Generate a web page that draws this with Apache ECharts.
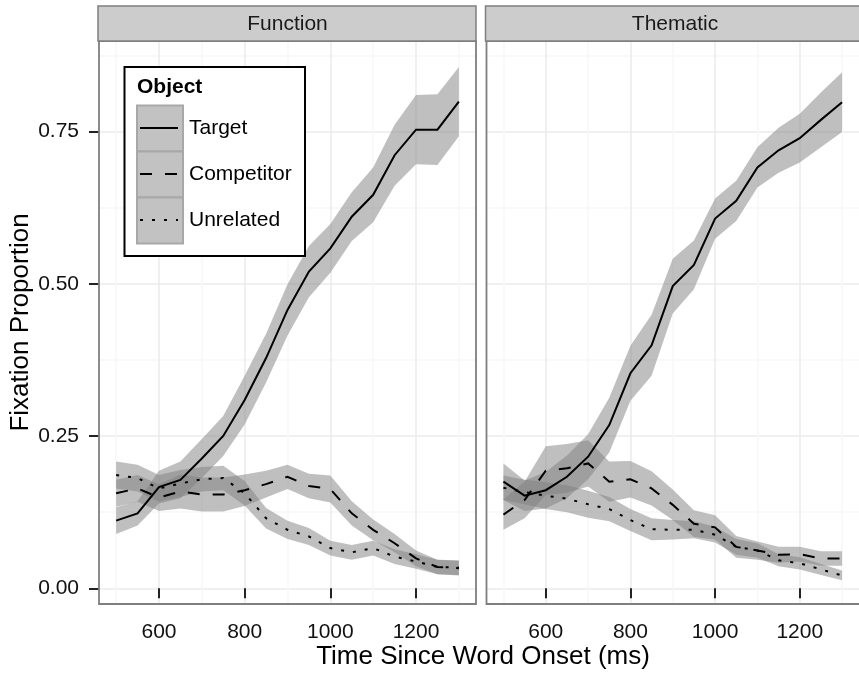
<!DOCTYPE html>
<html>
<head>
<meta charset="utf-8">
<script src="https://cdn.jsdelivr.net/npm/echarts@6/dist/echarts.min.js"></script>
<style>
html,body{margin:0;padding:0;background:#fff;}
#chart{width:859px;height:673px;}
</style>
</head>
<body>
<div id="chart"></div>
<script>
// ---- data ----
const times = [500, 550, 600, 650, 700, 750, 800, 850, 900, 950, 1000, 1050, 1100, 1150, 1200, 1250, 1300];
const panels = ['Function', 'Thematic'];
const objects = ['Target', 'Competitor', 'Unrelated'];
const xTicks = [600, 800, 1000, 1200];
const xMinorTicks = [500, 700, 900, 1100, 1300];
const yTicks = [0, 0.25, 0.5, 0.75];
const yMinorTicks = [0.125, 0.375, 0.625, 0.875];

// Function panel
const fnTargetMean = [0.111, 0.123, 0.166, 0.178, 0.213, 0.250, 0.309, 0.378, 0.457, 0.520, 0.558, 0.610, 0.646, 0.711, 0.753, 0.753, 0.799];
const fnTargetLo   = [0.089, 0.103, 0.139, 0.148, 0.181, 0.217, 0.269, 0.338, 0.415, 0.478, 0.518, 0.570, 0.601, 0.661, 0.696, 0.695, 0.742];
const fnTargetHi   = [0.133, 0.143, 0.193, 0.208, 0.245, 0.283, 0.349, 0.418, 0.499, 0.562, 0.598, 0.650, 0.691, 0.761, 0.810, 0.811, 0.856];

const fnCompMean = [0.156, 0.164, 0.149, 0.159, 0.154, 0.154, 0.161, 0.171, 0.183, 0.168, 0.163, 0.123, 0.096, 0.074, 0.049, 0.035, 0.033];
const fnCompLo   = [0.134, 0.142, 0.127, 0.131, 0.126, 0.126, 0.135, 0.149, 0.163, 0.148, 0.141, 0.103, 0.079, 0.059, 0.036, 0.023, 0.021];
const fnCompHi   = [0.178, 0.186, 0.171, 0.187, 0.182, 0.182, 0.187, 0.193, 0.203, 0.188, 0.185, 0.143, 0.113, 0.089, 0.062, 0.047, 0.045];

const fnUnrelMean = [0.186, 0.181, 0.164, 0.172, 0.179, 0.181, 0.156, 0.115, 0.096, 0.085, 0.066, 0.059, 0.066, 0.052, 0.044, 0.035, 0.034];
const fnUnrelLo   = [0.164, 0.159, 0.142, 0.150, 0.159, 0.161, 0.136, 0.098, 0.081, 0.071, 0.054, 0.047, 0.054, 0.040, 0.032, 0.023, 0.022];
const fnUnrelHi   = [0.208, 0.203, 0.186, 0.194, 0.199, 0.201, 0.176, 0.132, 0.111, 0.099, 0.078, 0.071, 0.078, 0.064, 0.056, 0.047, 0.046];

// Thematic panel
const thTargetMean = [0.175, 0.152, 0.161, 0.183, 0.216, 0.268, 0.353, 0.399, 0.496, 0.531, 0.607, 0.636, 0.691, 0.719, 0.739, 0.769, 0.798];
const thTargetLo   = [0.145, 0.127, 0.131, 0.148, 0.179, 0.223, 0.308, 0.349, 0.451, 0.491, 0.574, 0.603, 0.658, 0.682, 0.699, 0.724, 0.749];
const thTargetHi   = [0.205, 0.177, 0.191, 0.218, 0.253, 0.313, 0.398, 0.449, 0.541, 0.571, 0.640, 0.669, 0.724, 0.756, 0.779, 0.814, 0.847];

const thCompMean = [0.121, 0.145, 0.193, 0.197, 0.205, 0.175, 0.179, 0.164, 0.137, 0.106, 0.100, 0.068, 0.062, 0.055, 0.056, 0.049, 0.049];
const thCompLo   = [0.096, 0.115, 0.153, 0.157, 0.167, 0.142, 0.149, 0.136, 0.112, 0.084, 0.080, 0.050, 0.047, 0.042, 0.044, 0.037, 0.037];
const thCompHi   = [0.146, 0.175, 0.233, 0.237, 0.243, 0.208, 0.209, 0.192, 0.162, 0.128, 0.120, 0.086, 0.077, 0.068, 0.068, 0.061, 0.061];

const thUnrelMean = [0.165, 0.158, 0.152, 0.147, 0.138, 0.130, 0.112, 0.097, 0.096, 0.096, 0.088, 0.068, 0.062, 0.046, 0.041, 0.031, 0.021];
const thUnrelLo   = [0.145, 0.138, 0.130, 0.125, 0.116, 0.110, 0.094, 0.079, 0.080, 0.082, 0.075, 0.055, 0.050, 0.036, 0.031, 0.022, 0.013];
const thUnrelHi   = [0.185, 0.178, 0.174, 0.169, 0.160, 0.150, 0.130, 0.115, 0.112, 0.110, 0.101, 0.081, 0.074, 0.056, 0.051, 0.040, 0.029];

const panelData = [
  [[fnTargetMean, fnTargetLo, fnTargetHi], [fnCompMean, fnCompLo, fnCompHi], [fnUnrelMean, fnUnrelLo, fnUnrelHi]],
  [[thTargetMean, thTargetLo, thTargetHi], [thCompMean, thCompLo, thCompHi], [thUnrelMean, thUnrelLo, thUnrelHi]]
];

// ---- styles / layout ----
const FONT = '"Liberation Sans", Arial, Helvetica, sans-serif';
const lineTypes = ['solid', [12, 13], [3, 9]];
const ribbonFill = 'rgba(127,127,127,0.5)';
const gridPos = [{left: 99, top: 41, width: 377, height: 563}, {left: 486.5, top: 41, width: 377, height: 563}];
const X_MIN = 460, X_MAX = 1340, Y_MIN = -0.0258, Y_MAX = 0.8985;

const chart = echarts.init(document.getElementById('chart'), null, {renderer: 'canvas'});

const grids = gridPos.map(g => ({left: g.left, top: g.top, width: g.width, height: g.height, show: false, containLabel: false}));
const xAxes = [], yAxes = [];
panels.forEach((p, i) => {
  xAxes.push({
    type: 'value', gridIndex: i, min: X_MIN, max: X_MAX, position: 'bottom',
    axisLine: {show: false},
    axisTick: {show: true, customValues: xTicks, length: 10, lineStyle: {color: '#222', width: 2}},
    axisLabel: {show: true, customValues: xTicks, margin: 18, fontSize: 21, fontFamily: FONT, color: '#111',
      formatter: v => String(v)},
    splitLine: {show: true, lineStyle: {color: '#EBEBEB', width: 1.5}}
  });
  xAxes.push({
    type: 'value', gridIndex: i, min: X_MIN, max: X_MAX, position: 'bottom',
    axisLine: {show: false},
    axisTick: {show: false, customValues: xMinorTicks},
    axisLabel: {show: false},
    splitLine: {show: true, lineStyle: {color: '#F7F7F7', width: 1.5}}
  });
  yAxes.push({
    type: 'value', gridIndex: i, min: Y_MIN, max: Y_MAX, position: 'left',
    axisLine: {show: false},
    axisTick: {show: i === 0, customValues: yTicks, length: 10, lineStyle: {color: '#222', width: 2}},
    axisLabel: {show: i === 0, customValues: yTicks, margin: 20, fontSize: 21, fontFamily: FONT, color: '#111',
      formatter: v => v.toFixed(2)},
    splitLine: {show: true, lineStyle: {color: '#EBEBEB', width: 1.5}}
  });
  yAxes.push({
    type: 'value', gridIndex: i, min: Y_MIN, max: Y_MAX, position: 'left',
    axisLine: {show: false},
    axisTick: {show: false, customValues: yMinorTicks},
    axisLabel: {show: false},
    splitLine: {show: true, lineStyle: {color: '#F7F7F7', width: 1.5}}
  });
});

const series = [];
panels.forEach((p, i) => {
  panelData[i].forEach((d, k) => {
    const lo = d[1], hi = d[2];
    series.push({
      type: 'custom', name: p + ' ' + objects[k] + ' band',
      xAxisIndex: i * 2, yAxisIndex: i * 2, z: 2, silent: true,
      data: [[times[0], lo[0]]],
      renderItem: function (params, api) {
        const pts = [];
        for (let j = 0; j < times.length; j++) pts.push(api.coord([times[j], hi[j]]));
        for (let j = times.length - 1; j >= 0; j--) pts.push(api.coord([times[j], lo[j]]));
        return {type: 'polygon', shape: {points: pts}, style: {fill: ribbonFill}};
      }
    });
  });
});
panels.forEach((p, i) => {
  panelData[i].forEach((d, k) => {
    series.push({
      type: 'line', name: p + ' ' + objects[k],
      xAxisIndex: i * 2, yAxisIndex: i * 2, z: 3, silent: true,
      showSymbol: false, symbol: 'none', smooth: false,
      data: times.map((t, j) => [t, d[0][j]]),
      lineStyle: {color: '#000', width: 2, type: lineTypes[k], cap: 'butt', join: 'miter'}
    });
  });
});

// graphic: panel borders, strips, legend, axis titles
const graphic = [];
gridPos.forEach((g, i) => {
  graphic.push({type: 'rect', z: 50, silent: true,
    shape: {x: g.left, y: g.top, width: g.width, height: g.height},
    style: {fill: null, stroke: '#7F7F7F', lineWidth: 1.8}});
  graphic.push({type: 'rect', z: 50, silent: true,
    shape: {x: g.left - 1, y: 6, width: g.width + 1, height: g.top - 6},
    style: {fill: '#CCCCCC', stroke: '#7F7F7F', lineWidth: 1.5}});
  graphic.push({type: 'text', z: 51, silent: true,
    style: {text: panels[i], x: g.left + g.width / 2, y: 24, align: 'center', verticalAlign: 'middle',
      fontSize: 21, fontFamily: FONT, fill: '#1a1a1a'}});
});
// legend
graphic.push({type: 'rect', z: 60, silent: true,
  shape: {x: 124.5, y: 67, width: 180.5, height: 189},
  style: {fill: '#fff', stroke: '#000', lineWidth: 2}});
graphic.push({type: 'text', z: 61, silent: true,
  style: {text: 'Object', x: 137, y: 87.5, align: 'left', verticalAlign: 'middle',
    fontSize: 21, fontWeight: 'bold', fontFamily: FONT, fill: '#000'}});
objects.forEach((o, k) => {
  const top = 105.5 + k * 46;
  graphic.push({type: 'rect', z: 61, silent: true,
    shape: {x: 137, y: top, width: 46, height: 46},
    style: {fill: '#C2C2C2', stroke: '#A8A8A8', lineWidth: 2}});
  graphic.push({type: 'line', z: 62, silent: true,
    shape: {x1: 140, y1: top + 22.5, x2: 178, y2: top + 22.5},
    style: {stroke: '#000', lineWidth: 2, lineDash: lineTypes[k] === 'solid' ? null : lineTypes[k], lineCap: 'butt'}});
  graphic.push({type: 'text', z: 62, silent: true,
    style: {text: o, x: 189, y: top + 23, align: 'left', verticalAlign: 'middle',
      fontSize: 21, fontFamily: FONT, fill: '#000'}});
});
// axis titles
graphic.push({type: 'text', z: 61, silent: true,
  style: {text: 'Time Since Word Onset (ms)', x: 483, y: 657, align: 'center', verticalAlign: 'middle',
    fontSize: 26, fontFamily: FONT, fill: '#000'}});
graphic.push({type: 'text', z: 61, silent: true, x: 21, y: 322.5, rotation: Math.PI / 2,
  style: {text: 'Fixation Proportion', x: 0, y: 0, align: 'center', verticalAlign: 'middle',
    fontSize: 26, fontFamily: FONT, fill: '#000'}});

chart.setOption({
  animation: false,
  backgroundColor: '#fff',
  grid: grids,
  xAxis: xAxes,
  yAxis: yAxes,
  series: series,
  graphic: graphic
});
</script>
</body>
</html>
